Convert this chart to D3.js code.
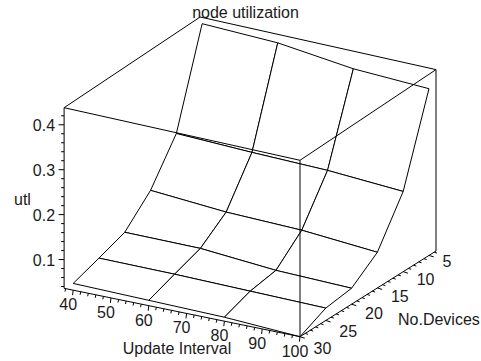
<!DOCTYPE html>
<html>
<head>
<meta charset="utf-8">
<script src="https://cdn.jsdelivr.net/npm/d3@7"></script>
<style>
  html, body { margin: 0; padding: 0; background: #fff; }
  svg { display: block; }
  text { font-family: "Liberation Sans", Arial, Helvetica, sans-serif; fill: #1a1a1a; }
</style>
</head>
<body>
<svg id="chart" width="481" height="361"></svg>
<script>
// ---------------- data ----------------
const updateInterval = [40, 60, 80, 100];          // x grid (Update Interval)
const noDevices = [5, 10, 15, 20, 25, 30];         // y grid (No.Devices)
// utl[row = noDevices index][col = updateInterval index]
const utl = [
  [0.438, 0.433, 0.413, 0.406],  // 5 devices
  [0.236, 0.230, 0.226, 0.215],  // 10
  [0.148, 0.135, 0.130, 0.116],  // 15
  [0.092, 0.091, 0.077, 0.072],  // 20
  [0.071, 0.070, 0.067, 0.064],  // 25
  [0.051, 0.048, 0.045, 0.036]   // 30
];
const xTickValues = [40, 50, 60, 70, 80, 90, 100];
const yTickValues = [5, 10, 15, 20, 25, 30];
const zTickValues = [0.1, 0.2, 0.3, 0.4];
const titleText = "node utilization";
const xTitle = "Update Interval";
const yTitle = "No.Devices";
const zTitle = "utl";

// ---------------- scales / projection ----------------
const xScale = d3.scaleLinear().domain([37.6, 100]).range([0, 1]);
const yScale = d3.scaleLinear().domain([30, 3.64]).range([0, 1]);
const zExt = d3.extent(utl.flat());
const zScale = d3.scaleLinear().domain(zExt).range([0, 1]);

function P(X, Y, Z) {
  const a = xScale(X), b = yScale(Y), c = zScale(Z);
  const x = 64.1 + 235.9 * a + 136 * b;
  const y0 = 288.3 + 48.4 * a - 85.7 * b;
  const H = 180.6 - 4.2 * a + 5.0 * b;
  return [x, y0 - c * H];
}

const svg = d3.select("#chart");
const g = svg.append("g");
const line = d3.line();

// ---------------- surface (painter's order: back to front) ----------------
const quads = [];
for (let i = 0; i < noDevices.length - 1; i++) {
  for (let j = 0; j < updateInterval.length - 1; j++) {
    const pts = [
      P(updateInterval[j],     noDevices[i],     utl[i][j]),
      P(updateInterval[j + 1], noDevices[i],     utl[i][j + 1]),
      P(updateInterval[j + 1], noDevices[i + 1], utl[i + 1][j + 1]),
      P(updateInterval[j],     noDevices[i + 1], utl[i + 1][j])
    ];
    quads.push({ pts, depth: i * 10 + j });
  }
}
quads.sort((p, q) => p.depth - q.depth);
g.selectAll("path.quad").data(quads).enter().append("path")
  .attr("class", "quad")
  .attr("d", d => line(d.pts) + "Z")
  .attr("fill", "#fff")
  .attr("stroke", "#000")
  .attr("stroke-width", 1)
  .attr("stroke-linejoin", "round");

// ---------------- box ----------------
const X0 = xScale.domain()[0], X1 = xScale.domain()[1];
const Y0 = yScale.domain()[0], Y1 = yScale.domain()[1];
const Z0 = zExt[0], Z1 = zExt[1];
const edges = [
  [[X0, Y0, Z0], [X1, Y0, Z0]],   // front bottom (x axis)
  [[X1, Y0, Z0], [X1, Y1, Z0]],   // right bottom (y axis)
  [[X0, Y0, Z0], [X0, Y0, Z1]],   // left vertical (z axis)
  [[X1, Y0, Z0], [X1, Y0, Z1]],   // front-right vertical
  [[X1, Y1, Z0], [X1, Y1, Z1]],   // back-right vertical
  [[X0, Y0, Z1], [X1, Y0, Z1]],   // top front
  [[X1, Y0, Z1], [X1, Y1, Z1]],   // top right
  [[X1, Y1, Z1], [X0, Y1, Z1]],   // top back
  [[X0, Y1, Z1], [X0, Y0, Z1]]    // top left
];
g.selectAll("path.edge").data(edges).enter().append("path")
  .attr("class", "edge")
  .attr("d", d => line(d.map(p => P(p[0], p[1], p[2]))))
  .attr("fill", "none").attr("stroke", "#000").attr("stroke-width", 1);

// ---------------- ticks ----------------
const tickG = g.append("g").attr("stroke", "#000").attr("stroke-width", 1);
// x axis ticks
const xMinor = d3.range(38, 100.01, 2);
xMinor.forEach(v => {
  const major = xTickValues.includes(v);
  const [px, py] = P(v, Y0, Z0);
  tickG.append("line").attr("x1", px).attr("y1", py)
    .attr("x2", px - 0.6).attr("y2", py + (major ? 5 : 3));
});
// y axis ticks
const yMinor = d3.range(4, 30.01, 1);
yMinor.forEach(v => {
  const major = yTickValues.includes(v);
  const [px, py] = P(X1, v, Z0);
  const L = major ? 5 : 3;
  tickG.append("line").attr("x1", px).attr("y1", py)
    .attr("x2", px + L * 0.95).attr("y2", py + L * 0.3);
});
// z axis ticks
const zMinor = d3.range(0.04, 0.4201, 0.02).map(v => +v.toFixed(2));
zMinor.forEach(v => {
  const major = zTickValues.some(t => Math.abs(t - v) < 1e-9);
  const [px, py] = P(X0, Y0, v);
  tickG.append("line").attr("x1", px).attr("y1", py)
    .attr("x2", px - (major ? 5.5 : 3)).attr("y2", py);
});

// ---------------- tick labels ----------------
const fs = 16;
xTickValues.forEach(v => {
  const [px, py] = P(v, Y0, Z0);
  g.append("text").attr("x", px - 5).attr("y", py + 20)
    .attr("text-anchor", "middle").attr("font-size", fs).text(d3.format("d")(v));
});
yTickValues.forEach(v => {
  const [px, py] = P(X1, v, Z0);
  const b = yScale(v);
  g.append("text").attr("x", px + 13.5).attr("y", py + 17.3 - 5.7 * b)
    .attr("text-anchor", "start").attr("font-size", fs).text(d3.format("d")(v));
});
zTickValues.forEach(v => {
  const [px, py] = P(X0, Y0, v);
  g.append("text").attr("x", px - 9).attr("y", py + 6.5)
    .attr("text-anchor", "end").attr("font-size", fs).text(d3.format(".1f")(v));
});

// ---------------- titles ----------------
g.append("text").attr("x", 245.5).attr("y", 17.5).attr("text-anchor", "middle")
  .attr("font-size", fs).text(titleText);
g.append("text").attr("x", 177).attr("y", 354).attr("text-anchor", "middle")
  .attr("font-size", fs).text(xTitle);
g.append("text").attr("x", 398).attr("y", 325).attr("text-anchor", "start")
  .attr("font-size", fs).text(yTitle);
g.append("text").attr("x", 14).attr("y", 205).attr("text-anchor", "start")
  .attr("font-size", fs).text(zTitle);
</script>
</body>
</html>
